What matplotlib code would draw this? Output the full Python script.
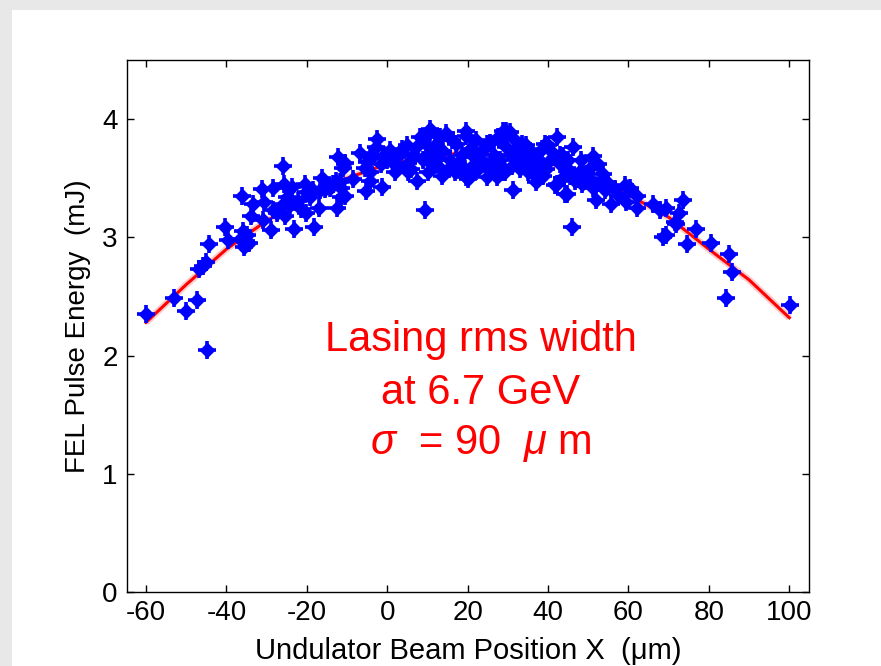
import matplotlib
matplotlib.use("Agg")
import matplotlib.pyplot as plt
from matplotlib.patches import Rectangle

plt.rcParams['font.family'] = ['Liberation Sans', 'DejaVu Sans']
plt.rcParams['mathtext.fontset'] = 'custom'
plt.rcParams['mathtext.rm'] = 'Liberation Sans'
plt.rcParams['mathtext.it'] = 'Liberation Sans:italic'
plt.rcParams['axes.unicode_minus'] = False

# ---- measured points (beam position um, pulse energy mJ) ----
x_pts = [
    -60.0, -53.1, -50.1, -47.4, -44.8, -46.7, -45.8, -45.1, -44.3, -40.4,
    -39.7, -36.1, -36.6, -35.6, -35.2, -34.8, -34.5, -35.9, -33.8, -33.5,
    -31.2, -30.6, -30.8, -28.8, -28.5, -28.4, -27.3, -25.9, -25.6, -25.0,
    -25.9, -25.4, -23.8, -23.3, -24.2, -22.1, -21.5, -20.5, -20.1, -20.1,
    -19.2, -18.3, -18.4, -16.9, -16.2, -16.7, -15.4, -14.3, -13.4, -12.6,
    -12.2, -12.8, -11.4, -11.8, -11.4, -10.5, -10.5, -10.9, -8.5, -6.8,
    -5.1, -5.6, -4.3, -2.7, -3.5, -4.3, -5.4, -2.5, -4.3, -1.2,
    0.6, 1.9, 3.6, 4.8, 5.2, 5.2, 1.9, 7.3, 7.7, 8.1,
    9.4, 10.6, 10.6, 9.7, 10.6, 11.4, 10.2, 13.1, 14.7, 13.9,
    13.1, 13.5, 16.8, 17.2, 19.7, 19.7, 20.5, 18.1, 19.7, 20.1,
    19.3, 22.2, 23.0, 24.7, 25.5, 24.7, 22.2, 25.5, 23.8, 26.7,
    28.8, 30.5, 29.6, 28.4, 29.6, 30.9, 28.0, 29.2, 27.2, 28.8,
    31.2, 32.1, 33.4, 35.4, 34.6, 36.3, 37.1, 33.8, 33.0, 34.6,
    37.1, 39.2, 40.0, 42.1, 40.4, 39.6, 42.9, 42.1, 41.7, 44.2,
    46.2, 44.6, 43.7, 47.1, 46.0, 48.3, 47.9, 49.5, 51.2, 50.4,
    46.6, 51.2, 53.6, 54.1, 44.6, 51.9, 55.7, 56.6, 59.1, 60.3,
    59.5, 62.0, 62.0, 66.1, 67.8, 69.4, 68.6, 69.4, 72.6, 73.5,
    71.5, 71.9, 74.6, 76.9, 80.6, 85.0, 85.8, 84.3, 100.2,
    2.5, 6.5, 8.8, 12.0, 15.5, 16.0, 18.5, 21.5, 23.5, 26.5,
    27.5, 31.5, 32.5, 36.0, 38.0, 38.5, 41.0, 43.0, 45.0, 45.5,
    48.5, 50.0, 52.5, 53.0, 3.0, 0.0, -1.5, -0.8, 6.0, 12.5,
    15.0, 17.5, 21.0, 26.0, 31.0, 35.0, 38.8, 43.5, 55.0, 57.5,
]
y_pts = [
    2.35, 2.49, 2.38, 2.47, 2.05, 2.73, 2.76, 2.79, 2.94, 3.09,
    2.98, 3.35, 2.99, 2.92, 2.97, 3.02, 2.95, 3.05, 3.18, 3.28,
    3.41, 3.30, 3.15, 3.06, 3.42, 3.23, 3.21, 3.60, 3.45, 3.34,
    3.28, 3.18, 3.43, 3.07, 3.27, 3.31, 3.24, 3.45, 3.38, 3.21,
    3.34, 3.09, 3.40, 3.25, 3.50, 3.40, 3.41, 3.42, 3.45, 3.25,
    3.68, 3.48, 3.34, 3.47, 3.42, 3.35, 3.63, 3.59, 3.49, 3.71,
    3.64, 3.59, 3.55, 3.76, 3.69, 3.48, 3.39, 3.83, 3.68, 3.43,
    3.74, 3.61, 3.75, 3.78, 3.55, 3.63, 3.55, 3.48, 3.78, 3.85,
    3.23, 3.89, 3.92, 3.79, 3.70, 3.62, 3.55, 3.85, 3.88, 3.73,
    3.59, 3.52, 3.55, 3.79, 3.86, 3.90, 3.75, 3.58, 3.51, 3.49,
    3.58, 3.82, 3.66, 3.79, 3.58, 3.51, 3.56, 3.80, 3.63, 3.58,
    3.90, 3.89, 3.90, 3.82, 3.76, 3.70, 3.65, 3.55, 3.51, 3.55,
    3.40, 3.72, 3.79, 3.73, 3.62, 3.54, 3.47, 3.68, 3.58, 3.78,
    3.66, 3.79, 3.78, 3.85, 3.65, 3.58, 3.70, 3.45, 3.44, 3.37,
    3.76, 3.59, 3.69, 3.49, 3.09, 3.65, 3.56, 3.54, 3.69, 3.59,
    3.48, 3.42, 3.54, 3.40, 3.37, 3.32, 3.28, 3.41, 3.44, 3.42,
    3.30, 3.35, 3.25, 3.28, 3.23, 3.25, 3.00, 3.02, 3.21, 3.32,
    3.13, 3.11, 2.94, 3.07, 2.95, 2.86, 2.71, 2.49, 2.43,
    3.68, 3.70, 3.65, 3.78, 3.65, 3.82, 3.70, 3.68, 3.74, 3.70,
    3.85, 3.83, 3.62, 3.70, 3.60, 3.75, 3.72, 3.62, 3.65, 3.52,
    3.45, 3.50, 3.62, 3.48, 3.60, 3.65, 3.62, 3.70, 3.58, 3.66,
    3.58, 3.62, 3.60, 3.64, 3.60, 3.55, 3.52, 3.50, 3.46, 3.36,
]

# ---- fitted curve ----
x_fit = [-60, -50, -40, -30, -20, -10, 0, 10, 20, 30, 40, 50, 60, 70, 80, 90, 100]
y_fit = [2.28, 2.60, 2.90, 3.14, 3.33, 3.50, 3.62, 3.68, 3.72, 3.69, 3.63, 3.52,
         3.36, 3.17, 2.90, 2.64, 2.32]

x_ticks = [-60, -40, -20, 0, 20, 40, 60, 80, 100]
y_ticks = [0, 1, 2, 3, 4]

fig = plt.figure(figsize=(8.81, 6.66), dpi=100, facecolor='#e8e8e8')
fig.patches.append(Rectangle((12 / 881, 0), 1 - 12 / 881, 1 - 10 / 666,
                             transform=fig.transFigure, facecolor='white',
                             edgecolor='none', zorder=-10))

ax = fig.add_axes([0.1447, 0.1111, 0.7736, 0.7988])
ax.set_zorder(1)
ax.set_xlim(-64.6, 104.9)
ax.set_ylim(0, 4.5)

ax.plot(x_fit, y_fit, color='#ff9999', lw=5, alpha=0.5, zorder=2,
        solid_capstyle='butt')
ax.plot(x_fit, y_fit, color='red', lw=2.2, zorder=3)

ax.plot(x_pts, y_pts, linestyle='none', marker='D', ms=7.5, color='blue',
        mec='blue', zorder=4)
ax.plot(x_pts, y_pts, linestyle='none', marker='+', ms=12.5, mew=2.6,
        color='blue', zorder=4)

ax.set_xticks(x_ticks)
ax.set_yticks(y_ticks)
ax.tick_params(direction='in', top=True, right=True, length=5, width=1,
               labelsize=20)
ax.tick_params(axis='x', pad=6)
ax.tick_params(axis='y', pad=7)
for s in ax.spines.values():
    s.set_linewidth(1.0)

ax.set_xlabel('Undulator Beam Position X  (\u03bcm)', fontsize=21, labelpad=8)
ax.set_ylabel('FEL Pulse Energy  (mJ)', fontsize=20, labelpad=8)

tc = 23.3
ax.text(tc, 2.13, 'Lasing rms width', color='red', fontsize=30,
        ha='center', va='center')
ax.text(tc, 1.68, 'at 6.7 GeV', color='red', fontsize=30,
        ha='center', va='center')
ax.text(tc, 1.26, r'$\sigma$  = 90  $\mu$ m', color='red', fontsize=30,
        ha='center', va='center')

fig.savefig('out.png', dpi=100, facecolor=fig.get_facecolor())
